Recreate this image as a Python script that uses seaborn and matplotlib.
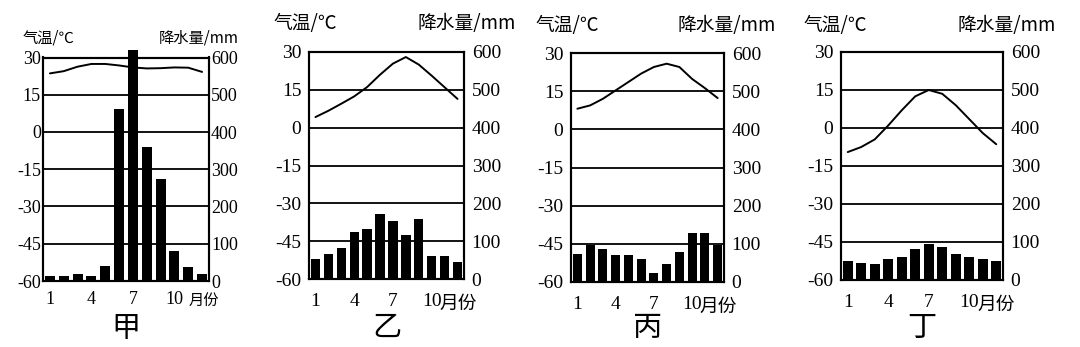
import matplotlib
matplotlib.use("Agg")
import matplotlib.pyplot as plt
import seaborn as sns
import pandas as pd

sns.set_theme(style="white")
plt.rcParams['font.family'] = ['Liberation Serif', 'Noto Sans CJK SC', 'DejaVu Sans']
plt.rcParams['axes.unicode_minus'] = False

months = list(range(1, 13))
temp_ticks = [-60, -45, -30, -15, 0, 15, 30]
prec_ticks = [0, 100, 200, 300, 400, 500, 600]
month_ticks = [1, 4, 7, 10]
panel_names = ["甲", "乙", "丙", "丁"]

jia_temp = [23.6, 24.5, 26.3, 27.4, 27.4, 26.8, 26.0, 25.6, 25.7, 26.0, 25.9, 24.2]
jia_prec = [13, 13, 19, 13, 41, 461, 620, 359, 275, 80, 37, 19]
yi_temp = [4.2, 6.7, 9.5, 12.4, 16.1, 21.0, 25.4, 28.0, 25.0, 20.6, 16.0, 11.4]
yi_prec = [54, 67, 82, 124, 131, 171, 153, 116, 158, 62, 62, 44]
bing_temp = [8.1, 9.4, 12.0, 15.3, 18.6, 21.9, 24.5, 25.8, 24.5, 19.8, 16.2, 12.3]
bing_prec = [74, 98, 87, 70, 70, 59, 24, 47, 78, 129, 129, 98]
ding_temp = [-9.5, -7.5, -4.5, 1.0, 7.0, 12.5, 15.0, 13.5, 9.0, 3.5, -2.0, -6.4]
ding_prec = [51, 46, 41, 55, 60, 81, 94, 86, 68, 60, 55, 51]

temps = [jia_temp, yi_temp, bing_temp, ding_temp]
precs = [jia_prec, yi_prec, bing_prec, ding_prec]

W, H = 1080, 347
# (left, top, right, bottom) in pixels
rects_px = [(43, 57.5, 209, 281), (309, 52, 464, 279), (571, 53, 724, 282), (841, 52, 1003, 280)]
label_fs = [11, 13.5, 13.5, 13.5]
tick_fs = [13, 14, 14, 14]
ypad = [1.5, 5.5, 5.5, 5.5]
xpad = [7, 10, 10, 10]
yunit_left_px = [23, 273, 535, 803]
yunit_right_px = [239, 516, 776, 1056]
yunit_y_px = [38, 24, 25, 26]
month_text_x = [11.0, 10.6, 10.6, 10.6]
title_y_px = [329, 328, 328, 328]
cjk = ['Noto Sans CJK SC', 'DejaVu Sans']

fig = plt.figure(figsize=(W / 100, H / 100), dpi=100)

for i in range(4):
    l, t, r, b = rects_px[i]
    ax = fig.add_axes([l / W, 1 - b / H, (r - l) / W, (b - t) / H])
    ax2 = ax.twinx()
    df = pd.DataFrame({"month": months, "temp": temps[i], "prec": precs[i]})

    sns.lineplot(data=df, x="month", y="temp", ax=ax, color="black", lw=1.4)
    sns.barplot(data=df, x="month", y="prec", ax=ax2, native_scale=True,
                color="black", width=0.72, saturation=1, edgecolor="black", linewidth=0)
    for p in ax2.patches:
        p.set_clip_on(False)

    ax.set_ylim(-60, 30)
    ax2.set_ylim(0, 600)
    ax.set_xlim(0.5, 12.5)
    ax2.set_xlim(0.5, 12.5)
    ax.set_yticks(temp_ticks)
    ax2.set_yticks(prec_ticks)
    ax.set_xticks(month_ticks)
    ax.set_xticklabels([str(m) for m in month_ticks])
    for a in (ax, ax2):
        a.set_xlabel("")
        a.set_ylabel("")
        for s in a.spines.values():
            s.set_color("black")
            s.set_linewidth(1.5)
    ax.grid(False)
    ax2.grid(False)
    for v in temp_ticks[1:-1]:
        ax.axhline(v, color="black", lw=1.3, zorder=0)
    ax.tick_params(axis="y", length=0, pad=ypad[i], labelsize=tick_fs[i], colors="black")
    ax2.tick_params(axis="y", length=0, pad=ypad[i], labelsize=tick_fs[i], colors="black")
    ax.tick_params(axis="x", length=0, pad=xpad[i], labelsize=tick_fs[i], colors="black")

    ax.annotate("月份", xy=(month_text_x[i], 0), xycoords=("data", "axes fraction"),
                xytext=(0, -(xpad[i] + 7.5)), textcoords="offset points", ha="left", va="center",
                fontsize=label_fs[i], color="black", family=cjk)
    fig.text(yunit_left_px[i] / W, 1 - yunit_y_px[i] / H, "气温/℃", ha="left", va="center",
             fontsize=label_fs[i], color="black", family=cjk)
    fig.text(yunit_right_px[i] / W, 1 - yunit_y_px[i] / H, "降水量/mm", ha="right", va="center",
             fontsize=label_fs[i], color="black", family=cjk)
    cx = (l + r) / 2 / W
    fig.text(cx, 1 - title_y_px[i] / H, panel_names[i], ha="center", va="center",
             fontsize=21, color="black", family=cjk)

fig.savefig("out.png", dpi=100, facecolor="white")
